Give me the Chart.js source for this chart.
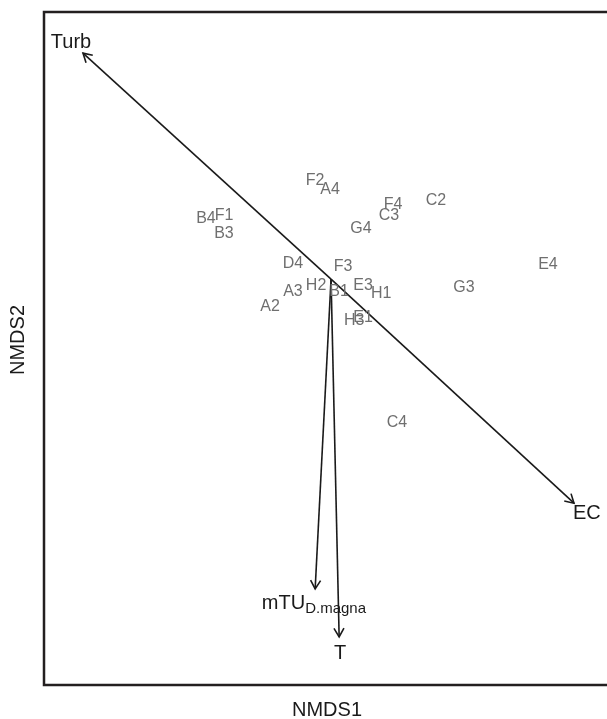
<!DOCTYPE html>
<html>
<head>
<meta charset="utf-8">
<script src="https://cdn.jsdelivr.net/npm/chart.js@4.4.1/dist/chart.umd.min.js"></script>
<style>
html,body{margin:0;padding:0;background:#fff;overflow:hidden}
#wrap{width:607px;height:719px}
</style>
</head>
<body>
<div id="wrap"><canvas id="nmds" width="607" height="719"></canvas></div>
<script>
// Site scores (NMDS1, NMDS2)
const siteNames = ["F2","A4","B4","F1","B3","F4","C3","G4","C2","D4","F3","E4","H2","B1","E3","H1","A3","G3","A2","H3","E1","C4"];
const siteX = [-0.053,-0.003,-0.417,-0.357,-0.357,0.207,0.193,0.100,0.350,-0.127,0.040,0.723,-0.050,0.027,0.107,0.167,-0.127,0.443,-0.203,0.077,0.107,0.220];
const siteY = [0.327,0.297,0.200,0.210,0.153,0.247,0.210,0.167,0.263,0.053,0.040,0.047,-0.023,-0.043,-0.023,-0.047,-0.043,-0.027,-0.093,-0.140,-0.127,-0.477];

// Fitted environmental vectors
const vectorNames = ["Turb","EC","mTU","T"];
const vectorSubs = ["","","D.magna",""];
const vectorX = [-0.827,0.810,-0.053,0.027];
const vectorY = [0.753,-0.747,-1.033,-1.193];
const vectorLabelX = [-0.867,0.853,-0.057,0.030];
const vectorLabelY = [0.790,-0.780,-1.080,-1.247];

const FONT = "'Liberation Sans', Arial, Helvetica, sans-serif";

const datasets = [{
  label: "sites",
  data: siteX.map((x,i) => ({x, y: siteY[i]})),
  pointRadius: 0
}];
vectorNames.forEach((name,i) => datasets.push({
  label: name,
  data: [{x:0,y:0},{x:vectorX[i],y:vectorY[i]}],
  showLine: true,
  borderColor: "#1a1a1a",
  borderWidth: 1.6,
  pointRadius: 0
}));
datasets.push({
  label: "vectorLabels",
  data: vectorLabelX.map((x,i) => ({x, y: vectorLabelY[i]})),
  pointRadius: 0
});

const ordiPlugin = {
  id: "ordi",
  afterDatasetsDraw(chart) {
    const c = chart.ctx, a = chart.chartArea;
    c.save();
    // site labels
    c.fillStyle = "#6f6f6f";
    c.font = `16px ${FONT}`;
    c.textAlign = "center";
    c.textBaseline = "middle";
    chart.getDatasetMeta(0).data.forEach((p,i) => c.fillText(siteNames[i], p.x, p.y));

    // arrow heads
    c.strokeStyle = "#1a1a1a";
    c.lineWidth = 1.6;
    vectorNames.forEach((_,i) => {
      const pts = chart.getDatasetMeta(i+1).data;
      const x0 = pts[0].x, y0 = pts[0].y, x1 = pts[1].x, y1 = pts[1].y;
      const ang = Math.atan2(y1-y0, x1-x0), len = 10, spread = Math.PI/6;
      c.beginPath();
      c.moveTo(x1 - len*Math.cos(ang-spread), y1 - len*Math.sin(ang-spread));
      c.lineTo(x1, y1);
      c.lineTo(x1 - len*Math.cos(ang+spread), y1 - len*Math.sin(ang+spread));
      c.stroke();
    });

    // vector labels
    c.fillStyle = "#1a1a1a";
    const labelMeta = chart.getDatasetMeta(vectorNames.length+1).data;
    labelMeta.forEach((p,i) => {
      c.font = `20px ${FONT}`;
      const w1 = c.measureText(vectorNames[i]).width;
      let w2 = 0;
      if (vectorSubs[i]) { c.font = `15px ${FONT}`; w2 = c.measureText(vectorSubs[i]).width; }
      const left = p.x - (w1+w2)/2;
      c.textAlign = "left";
      c.font = `20px ${FONT}`;
      c.fillText(vectorNames[i], left, p.y);
      if (vectorSubs[i]) {
        c.font = `15px ${FONT}`;
        c.fillText(vectorSubs[i], left + w1, p.y + 6);
      }
    });

    // frame (right side falls outside the picture)
    c.strokeStyle = "#231f20";
    c.lineWidth = 2.5;
    c.beginPath();
    c.moveTo(a.right+5, a.top);
    c.lineTo(a.left, a.top);
    c.lineTo(a.left, a.bottom);
    c.lineTo(a.right+5, a.bottom);
    c.stroke();

    // axis titles
    c.fillStyle = "#1a1a1a";
    c.font = `20px ${FONT}`;
    c.textAlign = "center";
    c.fillText("NMDS1", 327, 710);
    c.translate(18, 340);
    c.rotate(-Math.PI/2);
    c.fillText("NMDS2", 0, 0);
    c.restore();
  }
};

new Chart(document.getElementById("nmds"), {
  type: "scatter",
  data: {datasets},
  options: {
    responsive: false,
    animation: false,
    layout: {padding: {left: 44, top: 12, right: 0, bottom: 34}},
    scales: {
      x: {type: "linear", min: -0.957, max: 0.92, display: false},
      y: {type: "linear", min: -1.353, max: 0.89, display: false}
    },
    plugins: {legend: {display: false}, tooltip: {enabled: false}}
  },
  plugins: [ordiPlugin]
});
</script>
</body>
</html>
